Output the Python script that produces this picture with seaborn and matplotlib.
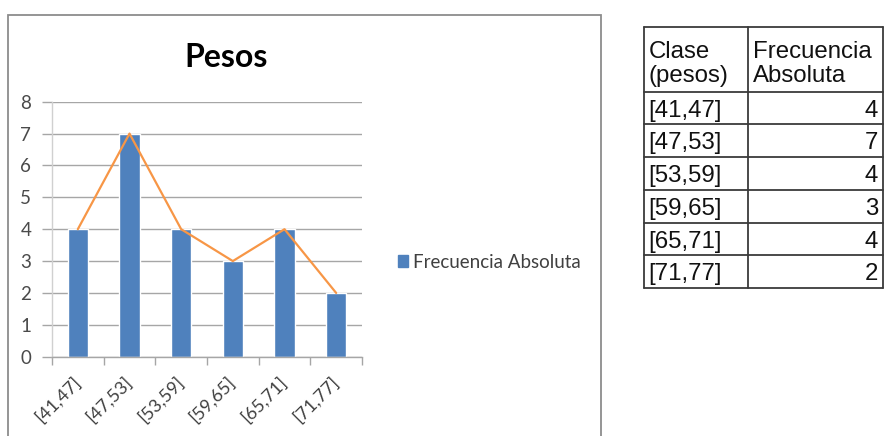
import matplotlib
matplotlib.use("Agg")
import matplotlib.pyplot as plt
from matplotlib.lines import Line2D
from matplotlib.patches import Rectangle
import seaborn as sns
import pandas as pd

# Frequency table of weights
clases = ["[41,47]", "[47,53]", "[53,59]", "[59,65]", "[65,71]", "[71,77]"]
frecuencia = [4, 7, 4, 3, 4, 2]
y_ticks = [0, 1, 2, 3, 4, 5, 6, 7, 8]

titulo = "Pesos"
serie = "Frecuencia Absoluta"
encabezado = [["Clase", "(pesos)"], ["Frecuencia", "Absoluta"]]

BLUE = "#4F81BD"
ORANGE = "#F79646"
GRID = "#A6A6A6"
TXT = "#404040"

W, H = 886, 436
sns.set_theme(style="white")
plt.rcParams["font.family"] = ["Lato", "DejaVu Sans"]

fig = plt.figure(figsize=(W / 100, H / 100), dpi=100)


def fx(x):
    return x / W


def fy(y):
    return 1 - y / H


# chart frame
fig.add_artist(Rectangle((fx(8), fy(460)), fx(601) - fx(8), fy(15) - fy(460),
                         transform=fig.transFigure, fill=False,
                         edgecolor="#8C8C8C", linewidth=1.3))

ax = fig.add_axes([fx(52), fy(356.7), fx(362) - fx(52), fy(101.7) - fy(356.7)])

df = pd.DataFrame({"Clase": clases, "Frecuencia": frecuencia})
sns.barplot(data=df, x="Clase", y="Frecuencia", color=BLUE, width=0.39,
            saturation=1, ax=ax, label=serie)
sns.pointplot(data=df, x="Clase", y="Frecuencia", color=ORANGE, marker="",
              linestyle="-", linewidth=1.6, ax=ax, errorbar=None)

ax.set_ylim(0, 8)
ax.set_xlim(-0.5, len(clases) - 0.5)
ax.set_yticks(y_ticks)
ax.yaxis.grid(True, color=GRID, linewidth=1)
ax.set_axisbelow(True)
ax.set_xlabel("")
ax.set_ylabel("")
for side in ["top", "right"]:
    ax.spines[side].set_visible(False)
ax.spines["left"].set_color("#D0D0D0")
ax.spines["bottom"].set_color(GRID)
ax.spines["left"].set_linewidth(1)
ax.spines["bottom"].set_linewidth(1)

ax.tick_params(axis="y", which="both", left=True, length=7, width=1,
               color=GRID, labelsize=13.5, labelcolor="#4A4A4A", pad=8)
# category boundary ticks on the x axis
ax.set_xticks([i - 0.5 for i in range(len(clases) + 1)], minor=True)
ax.tick_params(axis="x", which="minor", bottom=True, length=6, width=1,
               color=GRID)
ax.tick_params(axis="x", which="major", bottom=False, labelsize=13,
               labelcolor=TXT, pad=10)
for lab in ax.get_xticklabels():
    lab.set_rotation(45)
    lab.set_ha("right")
    lab.set_va("center")
    lab.set_rotation_mode("anchor")

ax.set_title(titulo, fontsize=23, fontweight="bold", color="black",
             x=fx(226.5 - 52) / (fx(362) - fx(52)), y=1.0, pad=25)

leg = ax.legend(handles=[Rectangle((0, 0), 1, 1, color=BLUE)], labels=[serie],
                loc="center left", bbox_to_anchor=(fx(390), fy(262)),
                bbox_transform=fig.transFigure, frameon=False,
                fontsize=13.5, handlelength=0.55, handleheight=0.55,
                handletextpad=0.3, borderaxespad=0)
for t in leg.get_texts():
    t.set_color(TXT)

# table on the right
x0, xm, x1 = 644, 748, 883
top, head = 27.3, 91.7
row_h = (288 - head) / len(clases)
lc = "#3A3A3A"
tfont = dict(family=["Liberation Sans", "DejaVu Sans"], fontsize=17.3,
             color="#111111")


def hline(y, xa, xb):
    fig.add_artist(Line2D([fx(xa), fx(xb)], [fy(y), fy(y)],
                          transform=fig.transFigure, color=lc, linewidth=1.3))


def vline(x, ya, yb):
    fig.add_artist(Line2D([fx(x), fx(x)], [fy(ya), fy(yb)],
                          transform=fig.transFigure, color=lc, linewidth=1.3))


hline(top, x0, x1)
hline(head, x0, x1)
for i in range(len(clases)):
    hline(head + row_h * (i + 1), x0, x1)
bottom = head + row_h * len(clases)
vline(x0, top, bottom)
vline(xm, top, bottom)
vline(x1, top, bottom)

for col, xx in zip(encabezado, [x0 + 5, xm + 5]):
    fig.text(fx(xx), fy(58), col[0], ha="left", va="baseline", **tfont)
    fig.text(fx(xx), fy(82), col[1], ha="left", va="baseline", **tfont)

for i, (c, f) in enumerate(zip(clases, frecuencia)):
    yb = head + row_h * i + 25
    fig.text(fx(x0 + 4), fy(yb), c, ha="left", va="baseline", **tfont)
    fig.text(fx(x1 - 5), fy(yb), str(f), ha="right", va="baseline", **tfont)

fig.savefig("out.png", dpi=100, facecolor="white")
